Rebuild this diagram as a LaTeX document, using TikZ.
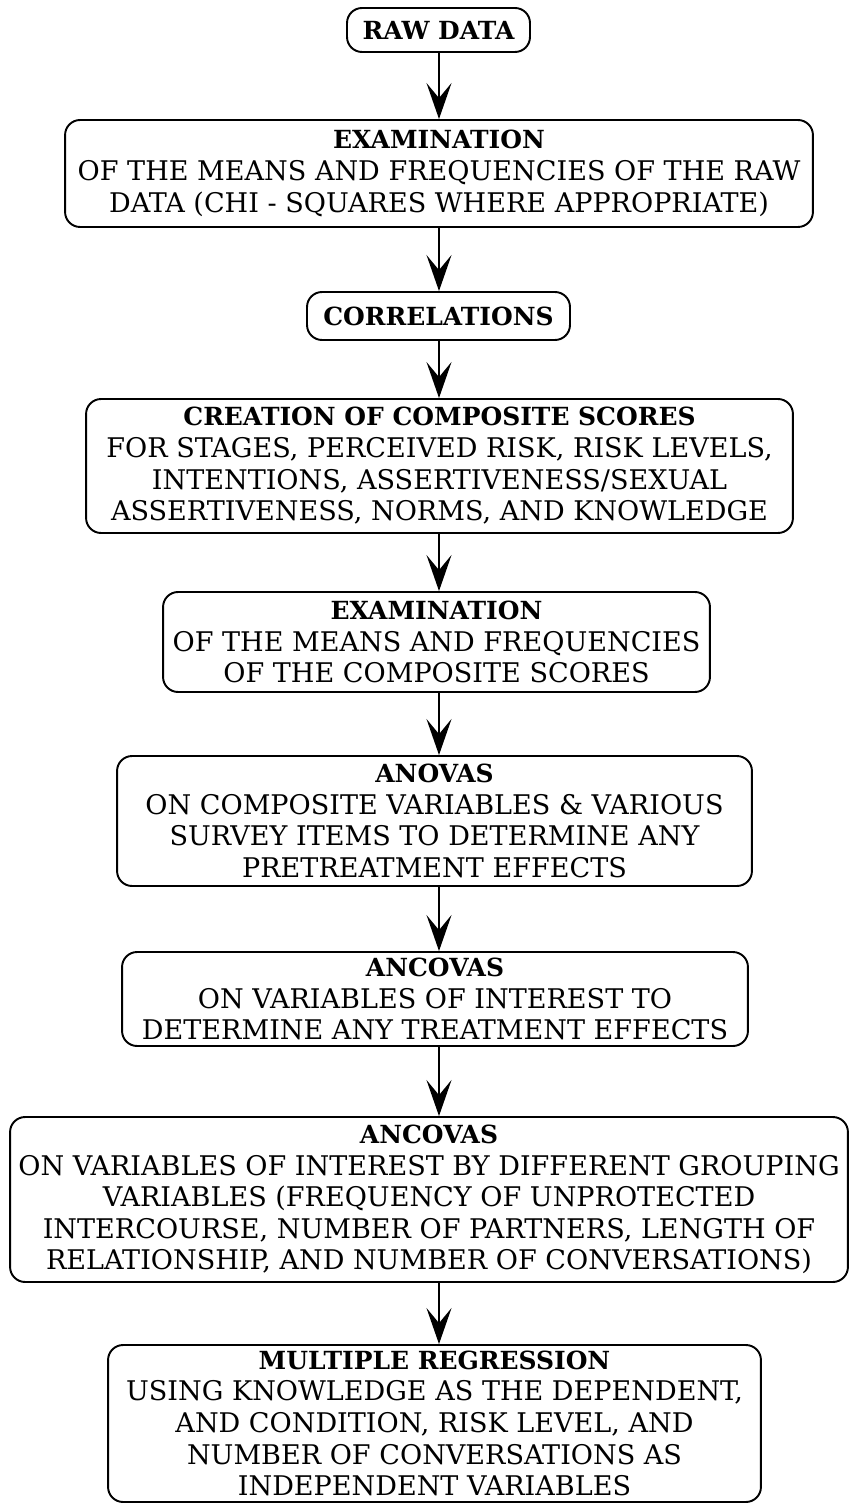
\documentclass[tikz,border=0pt]{standalone}
\usepackage{fontspec}
\setmainfont{DejaVu Serif}
\usetikzlibrary{positioning,arrows.meta}

\newcommand{\hd}[1]{{\bfseries\fontsize{14.2}{18}\selectfont #1}}

\begin{document}
\begin{tikzpicture}[x=0.02cm, y=-0.02cm,
    box/.style={draw, line width=1.1pt, rounded corners=0.3cm, align=center,
        inner sep=0pt, font=\fontsize{15.4}{18}\selectfont},
    flow/.style={-{Stealth[length=0.72cm, width=0.5cm, inset=0.3cm]}, line width=1.1pt}]

    \useasboundingbox (0,0) rectangle (850,1503);
    \coordinate (spine) at (439,0);

    \node[box, minimum width=3.66cm, minimum height=0.88cm] (raw) at (438.5,30)
        {\hd{RAW DATA}};
    \node[box, minimum width=14.96cm, minimum height=2.14cm] (exam1) at (439,173.5)
        {\hd{EXAMINATION}\\ OF THE MEANS AND FREQUENCIES OF THE RAW\\ DATA (CHI - SQUARES WHERE APPROPRIATE)};
    \node[box, minimum width=5.26cm, minimum height=0.96cm] (corr) at (438.5,316)
        {\hd{CORRELATIONS}};
    \node[box, minimum width=14.14cm, minimum height=2.68cm] (create) at (439.5,466)
        {\hd{CREATION OF COMPOSITE SCORES}\\ FOR STAGES, PERCEIVED RISK, RISK LEVELS,\\ INTENTIONS, ASSERTIVENESS/SEXUAL\\ ASSERTIVENESS, NORMS, AND KNOWLEDGE};
    \node[box, minimum width=10.94cm, minimum height=2.0cm] (exam2) at (436.5,642)
        {\hd{EXAMINATION}\\ OF THE MEANS AND FREQUENCIES\\ OF THE COMPOSITE SCORES};
    \node[box, minimum width=12.7cm, minimum height=2.6cm] (anovas) at (434.5,821)
        {\hd{ANOVAS}\\ ON COMPOSITE VARIABLES \& VARIOUS\\ SURVEY ITEMS TO DETERMINE ANY\\ PRETREATMENT EFFECTS};
    \node[box, minimum width=12.52cm, minimum height=1.88cm] (ancovas) at (435,999)
        {\hd{ANCOVAS}\\ ON VARIABLES OF INTEREST TO\\ DETERMINE ANY TREATMENT EFFECTS};
    \node[box, minimum width=16.76cm, minimum height=3.3cm] (groups) at (429,1199.5)
        {\hd{ANCOVAS}\\ ON VARIABLES OF INTEREST BY DIFFERENT GROUPING\\ VARIABLES (FREQUENCY OF UNPROTECTED\\ INTERCOURSE, NUMBER OF PARTNERS, LENGTH OF\\ RELATIONSHIP, AND NUMBER OF CONVERSATIONS)};
    \node[box, minimum width=13.06cm, minimum height=3.14cm] (regress) at (434.5,1423.5)
        {\hd{MULTIPLE REGRESSION}\\ USING KNOWLEDGE AS THE DEPENDENT,\\ AND CONDITION, RISK LEVEL, AND\\ NUMBER OF CONVERSATIONS AS\\ INDEPENDENT VARIABLES};

    \draw[flow] (raw.south -| spine) -- (exam1.north -| spine);
    \draw[flow] (exam1.south -| spine) -- (corr.north -| spine);
    \draw[flow] (corr.south -| spine) -- (create.north -| spine);
    \draw[flow] (create.south -| spine) -- (exam2.north -| spine);
    \draw[flow] (exam2.south -| spine) -- (anovas.north -| spine);
    \draw[flow] (anovas.south -| spine) -- (ancovas.north -| spine);
    \draw[flow] (ancovas.south -| spine) -- (groups.north -| spine);
    \draw[flow] (groups.south -| spine) -- (regress.north -| spine);

\end{tikzpicture}
\end{document}
